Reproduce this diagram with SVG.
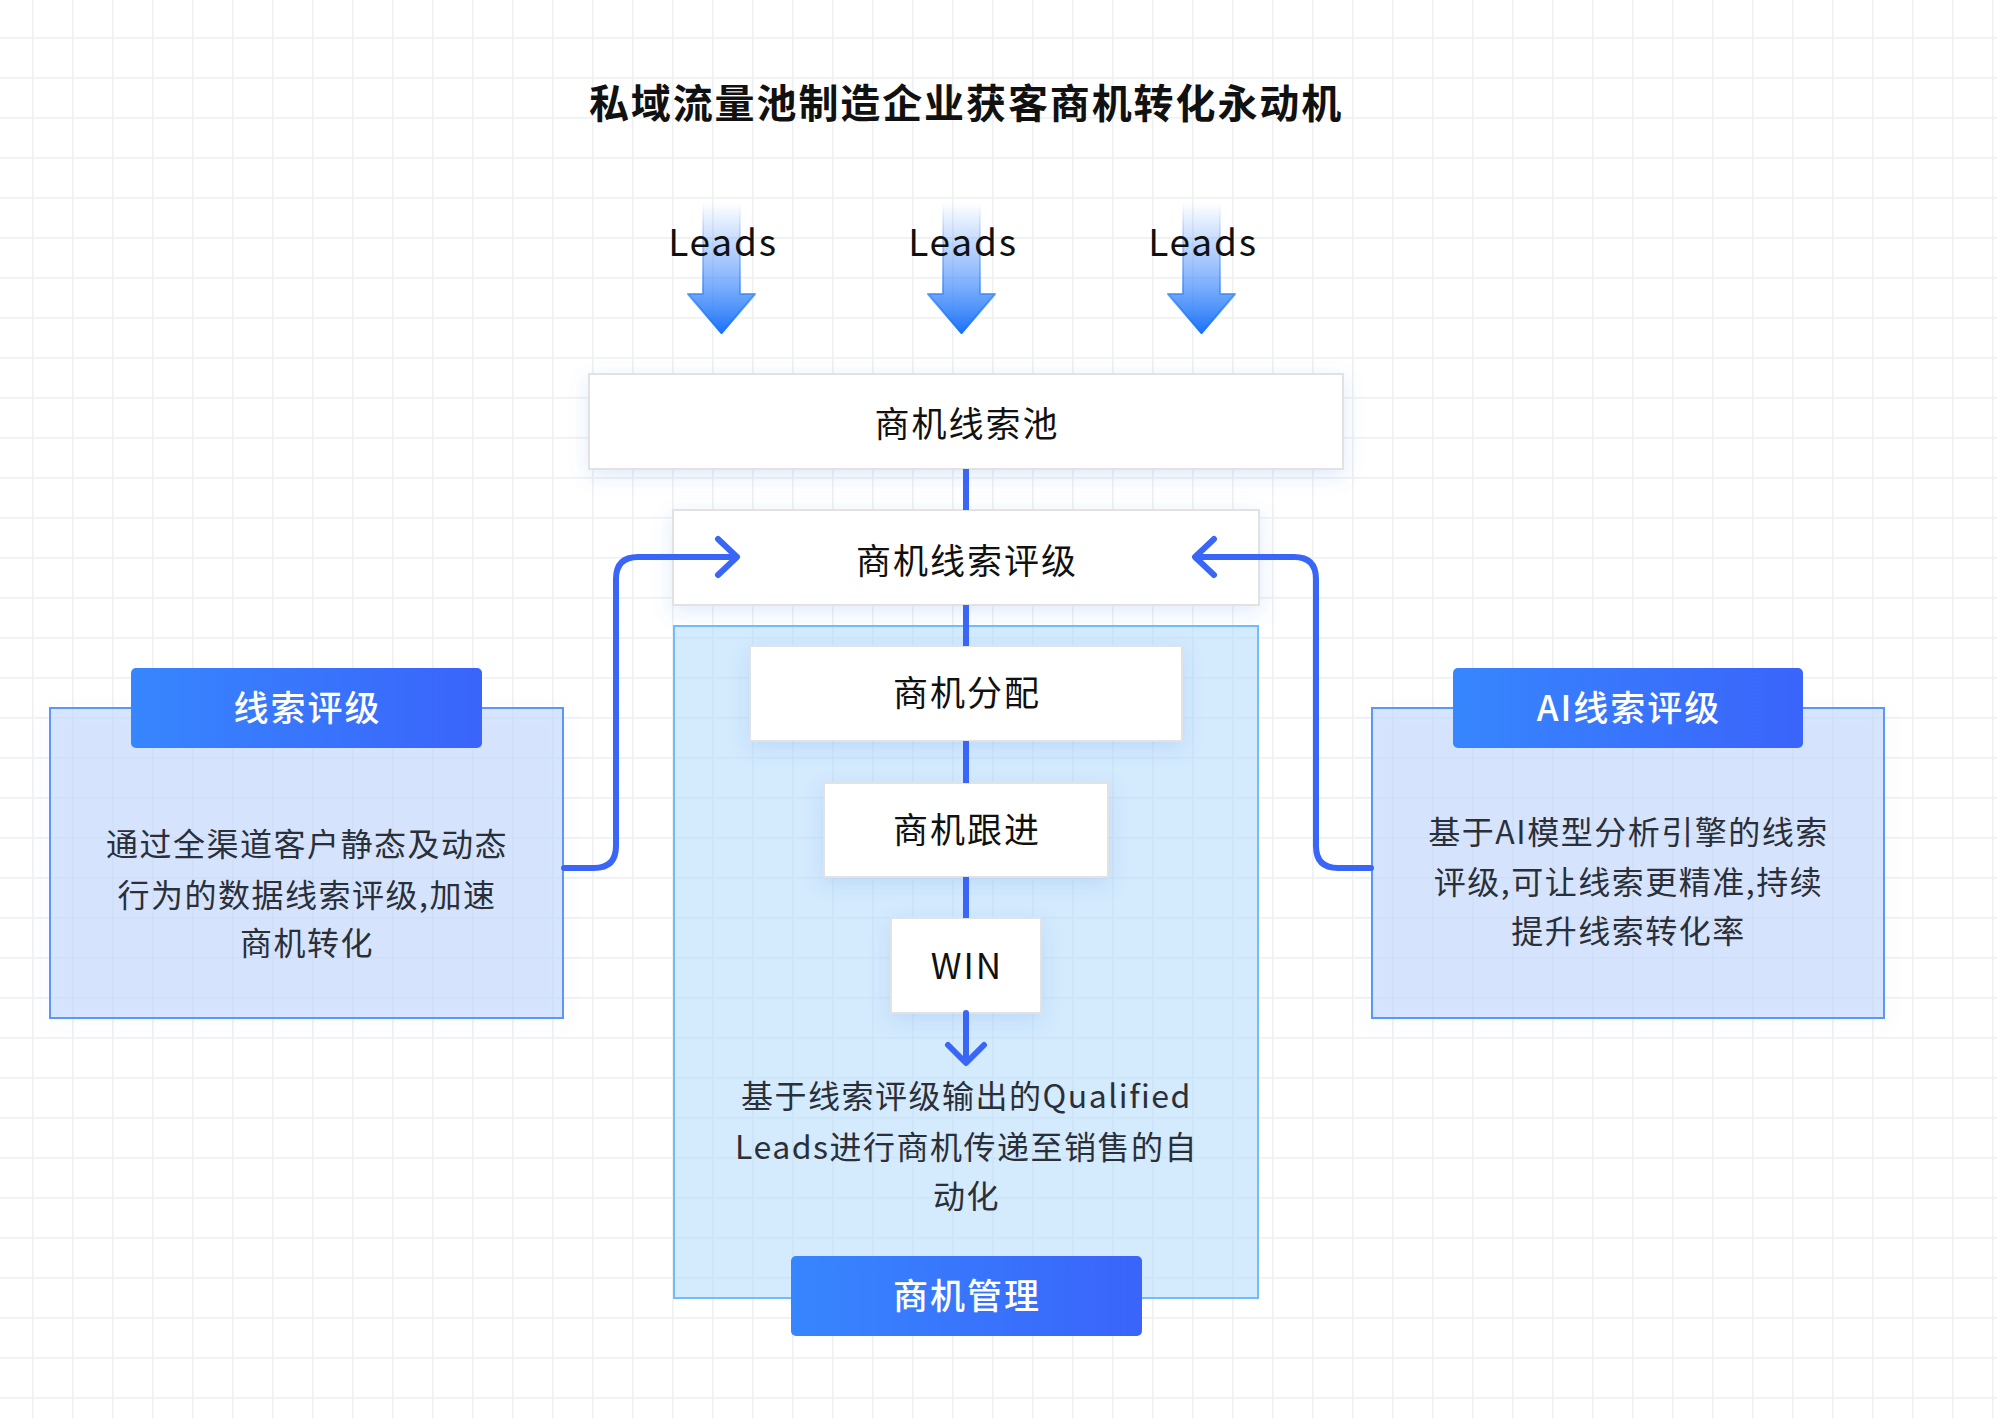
<svg xmlns="http://www.w3.org/2000/svg" width="1997" height="1418" viewBox="0 0 1997 1418">
<style>
text{font-family:"Noto Sans CJK SC","Noto Sans",sans-serif;text-anchor:middle}
.title{font-size:40px;font-weight:bold;fill:#111;letter-spacing:1.9px}
.leads{font-size:37px;fill:#111;letter-spacing:1.8px}
.node{fill:#fff;stroke:#e2e2e2;stroke-width:2}
.nt{font-size:35px;fill:#111;letter-spacing:2px}
.ht{font-size:35px;fill:#fff;font-weight:500;letter-spacing:2px}
.body{font-size:32px;fill:#2b2f38;letter-spacing:1.5px}
.side{fill:#bcd5fb;fill-opacity:0.6;stroke:#5b96f7;stroke-width:2}
.conn{fill:none;stroke:#3a66f7;stroke-width:6;stroke-linecap:round;stroke-linejoin:round}
.line{stroke:#3a66f7;stroke-width:6}
</style>
<defs>
<pattern id="grid" patternUnits="userSpaceOnUse" x="32" y="37" width="40" height="40">
<rect x="0" y="0" width="1.6" height="40" fill="#eff0f2"/>
<rect x="0" y="0" width="40" height="1.6" fill="#eff0f2"/>
</pattern>
<linearGradient id="arrowG" x1="0" y1="0" x2="0" y2="1">
<stop offset="0" stop-color="#5a98fb" stop-opacity="0"/>
<stop offset="0.45" stop-color="#5a98fb" stop-opacity="0.55"/>
<stop offset="1" stop-color="#1a73f8" stop-opacity="1"/>
</linearGradient>
<linearGradient id="headG" x1="0" y1="0" x2="1" y2="0">
<stop offset="0" stop-color="#3786fe"/>
<stop offset="1" stop-color="#3a64fa"/>
</linearGradient>
<filter id="sh" x="-20%" y="-40%" width="140%" height="190%">
<feDropShadow dx="0" dy="6" stdDeviation="10" flood-color="#3f7fe8" flood-opacity="0.16"/>
</filter>
<filter id="sh2" x="-10%" y="-10%" width="120%" height="120%">
<feDropShadow dx="0" dy="4" stdDeviation="10" flood-color="#3f7fe8" flood-opacity="0.06"/>
</filter>
</defs>
<rect width="1997" height="1418" fill="#fff"/>
<rect width="1997" height="1418" fill="url(#grid)"/>

<text class="title" x="966" y="118">私域流量池制造企业获客商机转化永动机</text>

<g id="leads">
<g id="leads1">
<polygon points="703,203 740,203 740,294 755,294 721.5,333 688,294 703,294" fill="url(#arrowG)" stroke="url(#arrowG)" stroke-width="2" stroke-linejoin="round"/>
<text class="leads" x="723" y="256">Leads</text>
</g>
<g id="leads2">
<polygon points="943,203 980,203 980,294 995,294 961.5,333 928,294 943,294" fill="url(#arrowG)" stroke="url(#arrowG)" stroke-width="2" stroke-linejoin="round"/>
<text class="leads" x="963" y="256">Leads</text>
</g>
<g id="leads3">
<polygon points="1183,203 1220,203 1220,294 1235,294 1201.5,333 1168,294 1183,294" fill="url(#arrowG)" stroke="url(#arrowG)" stroke-width="2" stroke-linejoin="round"/>
<text class="leads" x="1203" y="256">Leads</text>
</g>
</g>

<g id="manage-container">
<rect x="674" y="626" width="584" height="672" fill="#b0d8fb" fill-opacity="0.55" stroke="#72bcfd" stroke-width="2"/>
</g>

<g id="pool">
<rect class="node" x="589" y="374" width="754" height="95" filter="url(#sh)"/>
<text class="nt" x="967" y="437">商机线索池</text>
</g>
<g id="rating">
<rect class="node" x="673" y="510" width="586" height="95" filter="url(#sh)"/>
<text class="nt" x="967" y="574">商机线索评级</text>
</g>
<g id="assign">
<rect class="node" x="750" y="646" width="432" height="95" filter="url(#sh)"/>
<text class="nt" x="967" y="706">商机分配</text>
</g>
<g id="follow">
<rect class="node" x="824" y="783" width="284" height="94" filter="url(#sh)"/>
<text class="nt" x="967" y="843">商机跟进</text>
</g>
<g id="win">
<rect class="node" x="891" y="918" width="150" height="95" filter="url(#sh)"/>
<text class="nt" x="967" y="979">WIN</text>
</g>
<g id="manage-text">
<text class="body" x="966.5" y="1108">基于线索评级输出的Qualified</text>
<text class="body" x="966.5" y="1159">Leads进行商机传递至销售的自</text>
<text class="body" x="966.5" y="1208">动化</text>
</g>
<g id="manage-header">
<rect x="791" y="1256" width="351" height="80" rx="5" fill="url(#headG)"/>
<text class="ht" x="967" y="1309">商机管理</text>
</g>

<g id="lead-rating">
<rect class="side" x="50" y="708" width="513" height="310" filter="url(#sh2)"/>
<rect x="131" y="668" width="351" height="80" rx="5" fill="url(#headG)"/>
<text class="ht" x="307.5" y="721">线索评级</text>
<text class="body" x="307" y="856">通过全渠道客户静态及动态</text>
<text class="body" x="307" y="907">行为的数据线索评级,加速</text>
<text class="body" x="307" y="955">商机转化</text>
</g>

<g id="ai-rating">
<rect class="side" x="1372" y="708" width="512" height="310" filter="url(#sh2)"/>
<rect x="1453" y="668" width="350" height="80" rx="5" fill="url(#headG)"/>
<text class="ht" x="1629" y="721">AI线索评级</text>
<text class="body" x="1628.5" y="844">基于AI模型分析引擎的线索</text>
<text class="body" x="1628.5" y="894">评级,可让线索更精准,持续</text>
<text class="body" x="1628.5" y="943">提升线索转化率</text>
</g>

<g id="connectors">
<line class="line" x1="966" y1="469" x2="966" y2="510"/>
<line class="line" x1="966" y1="605" x2="966" y2="646"/>
<line class="line" x1="966" y1="741" x2="966" y2="783"/>
<line class="line" x1="966" y1="877" x2="966" y2="918"/>
<path class="conn" d="M966,1013 V1062 M948,1045 L966,1063 L984,1045"/>
<path class="conn" d="M564,868 H594 Q616,868 616,846 V579 Q616,557 638,557 H736 M718,539 L737,557 L718,575"/>
<path class="conn" d="M1371,868 H1338 Q1316,868 1316,846 V579 Q1316,557 1294,557 H1196 M1214,539 L1195,557 L1214,575"/>
</g>
</svg>
